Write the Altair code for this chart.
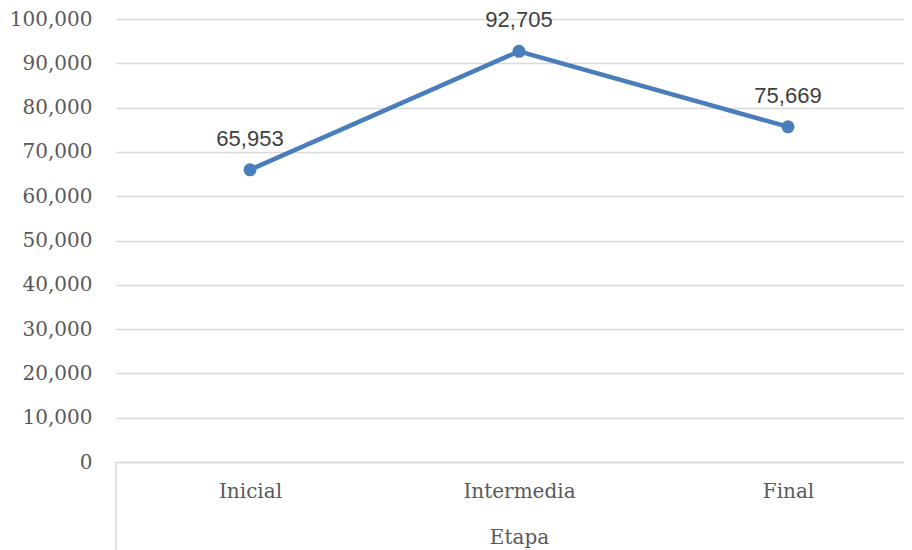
import altair as alt
import pandas as pd

etapas = ["Inicial", "Intermedia", "Final"]
valores = [65953, 92705, 75669]

df = pd.DataFrame({"Etapa": etapas, "Valor": valores})

W = 788
H = 443
LABEL_GRAY = "#595959"
GRID = "#d9d9d9"
LINE = "#4a7ebb"

x_enc = alt.X(
    "Etapa:N",
    sort=etapas,
    scale=alt.Scale(type="point", padding=0.4647, align=0.536),
    axis=alt.Axis(
        title="Etapa",
        labelAngle=0,
        ticks=False,
        tickSize=0,
        grid=False,
        domainColor=GRID,
        domainWidth=1.5,
        labelFont="DejaVu Serif",
        labelFontSize=20,
        labelColor=LABEL_GRAY,
        labelBaseline="middle",
        labelPadding=29,
        titleFont="DejaVu Serif",
        titleFontSize=20,
        titleFontWeight="normal",
        titleColor=LABEL_GRAY,
        titleX=403,
        titleY=75,
        titleAlign="center",
        titleBaseline="middle",
    ),
)

y_enc = alt.Y(
    "Valor:Q",
    scale=alt.Scale(domain=[0, 100000], nice=False),
    axis=alt.Axis(
        title=None,
        values=list(range(0, 100001, 10000)),
        format=",.0f",
        ticks=False,
        domain=False,
        grid=True,
        gridColor=GRID,
        gridWidth=1.4,
        labelFont="DejaVu Serif",
        labelFontSize=20,
        labelColor=LABEL_GRAY,
        labelPadding=24,
    ),
)

base = alt.Chart(df)

line = base.mark_line(color=LINE, strokeWidth=4.5).encode(x=x_enc, y=y_enc)
points = base.mark_point(filled=True, color=LINE, size=170, opacity=1).encode(
    x=alt.X("Etapa:N", sort=etapas), y="Valor:Q"
)
labels = base.mark_text(
    font="Liberation Sans", fontSize=22, color="#404040", baseline="middle", dy=-31
).encode(x=alt.X("Etapa:N", sort=etapas), y="Valor:Q", text=alt.Text("Valor:Q", format=","))

sep = alt.Chart(pd.DataFrame({"a": [0]})).mark_rule(color=GRID, strokeWidth=1.5).encode(
    x=alt.value(0), y=alt.value(H), y2=alt.value(H + 88)
)

chart = (
    alt.layer(line, points, labels, sep)
    .properties(
        width=W,
        height=H,
        autosize=alt.AutoSizeParams(type="none"),
        padding={"left": 108, "top": 11, "right": 0, "bottom": 88},
    )
    .configure_view(stroke=None)
)

chart.save("out.html", embed_options={"renderer": "svg", "actions": False})
